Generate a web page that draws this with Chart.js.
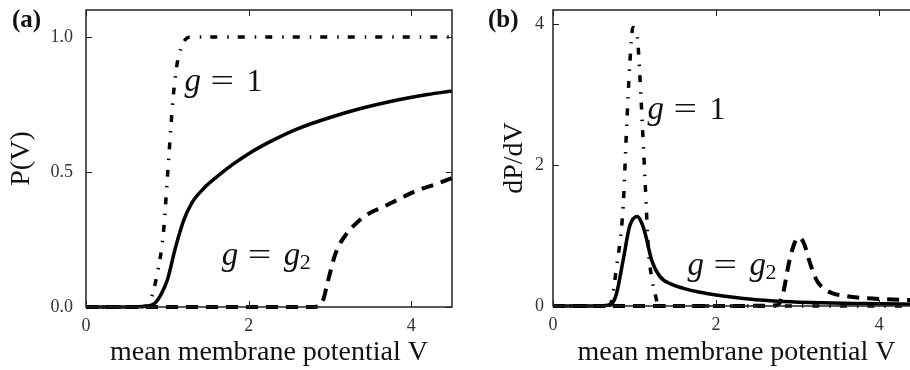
<!DOCTYPE html>
<html>
<head>
<meta charset="utf-8">
<script src="https://cdn.jsdelivr.net/npm/chart.js@4.4.1/dist/chart.umd.min.js"></script>
<style>
  html, body { margin: 0; padding: 0; background: #fff; overflow: hidden; }
  #wrap { position: relative; width: 910px; height: 370px; overflow: hidden; }
  #ca { position: absolute; left: 0; top: 0; }
  #cb { position: absolute; left: 455px; top: 0; }
</style>
</head>
<body>
<div id="wrap">
  <canvas id="ca" width="455" height="370"></canvas>
  <canvas id="cb" width="470" height="370"></canvas>
</div>
<script>
// (a) P(V)
const vSolidA = [0, 0.5, 0.75, 0.85, 0.92, 1.0, 1.1, 1.2, 1.3, 1.45, 1.6, 1.8, 2.0, 2.3, 2.6, 3.0, 3.4, 3.8, 4.2, 4.5];
const pSolidA = [0, 0, 0.003, 0.015, 0.045, 0.1, 0.22, 0.32, 0.385, 0.44, 0.48, 0.527, 0.568, 0.618, 0.66, 0.702, 0.737, 0.765, 0.787, 0.80];
const vDotA = [0, 0.6, 0.75, 0.81, 0.88, 0.95, 1.01, 1.07, 1.12, 1.17, 1.22, 1.3, 1.5, 2.5, 3.5, 4.5];
const pDotA = [0, 0, 0.005, 0.04, 0.13, 0.27, 0.52, 0.77, 0.9, 0.96, 0.99, 1.0, 1.0, 1.0, 1.0, 1.0];
const vDashA = [0, 1, 2, 2.8, 2.87, 2.92, 2.97, 3.07, 3.2, 3.36, 3.5, 3.65, 3.85, 4.06, 4.3, 4.5];
const pDashA = [0, 0, 0, 0, 0.005, 0.03, 0.09, 0.2, 0.27, 0.32, 0.35, 0.37, 0.4, 0.43, 0.455, 0.477];

// (b) dP/dV
const vSolidB = [0, 0.5, 0.68, 0.74, 0.78, 0.86, 0.94, 1.03, 1.08, 1.13, 1.21, 1.31, 1.45, 1.6, 1.8, 2.0, 2.4, 2.82, 3.3, 3.8, 4.5];
const dSolidB = [0, 0, 0.01, 0.06, 0.18, 0.65, 1.13, 1.27, 1.2, 1.03, 0.65, 0.42, 0.31, 0.25, 0.195, 0.157, 0.1, 0.065, 0.045, 0.035, 0.025];
const vDotB = [0, 0.6, 0.7, 0.78, 0.86, 0.9, 0.94, 0.98, 1.01, 1.04, 1.08, 1.13, 1.17, 1.21, 1.25, 1.29, 1.4, 2, 3, 4.5];
const dDotB = [0, 0, 0.02, 0.56, 1.41, 2.46, 3.4, 3.95, 3.92, 3.74, 2.93, 1.75, 0.8, 0.4, 0.18, 0.02, 0, 0, 0, 0];
const vDashB = [0, 1, 2, 2.75, 2.82, 2.9, 2.98, 3.02, 3.08, 3.14, 3.23, 3.33, 3.43, 3.6, 3.84, 4.1, 4.5];
const dDashB = [0, 0, 0, 0.01, 0.18, 0.65, 0.94, 0.97, 0.88, 0.65, 0.37, 0.24, 0.18, 0.14, 0.11, 0.095, 0.08];

const xTicks = [0, 2, 4];
const yTicksA = [0, 0.5, 1.0];
const yTicksB = [0, 2, 4];

const SERIF = "'Liberation Serif', 'DejaVu Serif', serif";

const STYLE_SOLID = { borderWidth: 3.5, borderDash: [] };
const STYLE_DASH = { borderWidth: 4, borderDash: [12, 8] };
const STYLE_DOTDASH = { borderWidth: 3.5, borderDash: [7, 10, 1.5, 9] };

function series(xs, ys, style) {
  return {
    data: xs.map((v, i) => ({ x: v, y: ys[i] })),
    borderColor: '#000',
    borderWidth: style.borderWidth,
    borderDash: style.borderDash,
    pointRadius: 0,
    fill: false,
    cubicInterpolationMode: 'monotone',
    clip: 6
  };
}

// "g = 1" / "g = g2" written piece by piece
function drawNote(ctx, x0, base, rhs, sub) {
  ctx.fillStyle = '#111';
  ctx.textAlign = 'left';
  ctx.textBaseline = 'alphabetic';
  ctx.font = 'italic 33px ' + SERIF;
  ctx.fillText('g', x0, base);
  // wider equals sign, like the TeX one
  ctx.save();
  ctx.translate(x0 + 26, base);
  ctx.scale(1.3, 1);
  ctx.font = '32px ' + SERIF;
  ctx.fillText('=', 0, 0);
  ctx.restore();
  if (sub) {
    ctx.font = 'italic 33px ' + SERIF;
    ctx.fillText('g', x0 + 62, base);
    ctx.font = '22px ' + SERIF;
    ctx.fillText(sub, x0 + 78, base + 4);
  } else {
    ctx.font = '32px ' + SERIF;
    ctx.fillText(rhs, x0 + 62, base);
  }
}

const framePlugin = {
  id: 'frame',
  afterDatasetsDraw(chart, args, opts) {
    const { ctx, chartArea: a, scales: { x, y } } = chart;
    ctx.save();
    ctx.strokeStyle = '#222';
    ctx.lineWidth = 1.5;
    ctx.strokeRect(a.left, a.top, a.right - a.left, a.bottom - a.top);
    ctx.lineWidth = 1;
    ctx.beginPath();
    x.ticks.forEach(t => {
      const px = Math.round(x.getPixelForValue(t.value)) + 0.5;
      ctx.moveTo(px, a.bottom); ctx.lineTo(px, a.bottom - 6);
      ctx.moveTo(px, a.top); ctx.lineTo(px, a.top + 6);
    });
    y.ticks.forEach(t => {
      const py = Math.round(y.getPixelForValue(t.value)) + 0.5;
      ctx.moveTo(a.left, py); ctx.lineTo(a.left + 6, py);
      ctx.moveTo(a.right, py); ctx.lineTo(a.right - 6, py);
    });
    ctx.stroke();

    ctx.fillStyle = '#111';
    ctx.font = 'bold 25px ' + SERIF;
    ctx.textBaseline = 'middle';
    ctx.fillText(opts.label, opts.labelX, 21);

    opts.notes.forEach(n => {
      drawNote(ctx, x.getPixelForValue(n.x), y.getPixelForValue(n.y), n.rhs, n.sub);
    });
    ctx.restore();
  }
};

function noPad(s) {
  s.paddingTop = 0; s.paddingBottom = 0; s.paddingLeft = 0; s.paddingRight = 0;
}

function makeScales(yMin, yMax, yTicks, yFmt, yTitle, yTitlePad, yLabelPad, yWidth, xHeight) {
  return {
    x: {
      type: 'linear', min: 0, max: 4.5,
      afterBuildTicks: s => { s.ticks = xTicks.map(v => ({ value: v })); },
      ticks: { font: { family: SERIF, size: 18 }, color: '#333', padding: 8, maxRotation: 0, callback: v => String(v) },
      grid: { display: false, drawTicks: false },
      border: { display: false },
      title: { display: true, text: 'mean membrane potential V', color: '#111',
               font: { family: SERIF, size: 28, lineHeight: 1.2 }, padding: { top: 0, bottom: 1 } },
      afterFit: s => { s.height = xHeight; noPad(s); }
    },
    y: {
      type: 'linear', min: yMin, max: yMax,
      afterBuildTicks: s => { s.ticks = yTicks.map(v => ({ value: v })); },
      ticks: { font: { family: SERIF, size: 18 }, color: '#333', padding: yLabelPad, callback: yFmt },
      grid: { display: false, drawTicks: false },
      border: { display: false },
      title: { display: true, text: yTitle, color: '#111',
               font: { family: SERIF, size: 28, lineHeight: 1.2 }, padding: { top: yTitlePad, bottom: 0 } },
      afterFit: s => { s.width = yWidth; noPad(s); }
    }
  };
}

new Chart(document.getElementById('ca'), {
  type: 'line',
  data: {
    datasets: [
      series(vDashA, pDashA, STYLE_DASH),
      series(vDotA, pDotA, STYLE_DOTDASH),
      series(vSolidA, pSolidA, STYLE_SOLID)
    ]
  },
  options: {
    responsive: false,
    animation: false,
    layout: { padding: { top: 10, right: 3, left: 0, bottom: 0 } },
    plugins: {
      legend: { display: false },
      tooltip: { enabled: false },
      frame: {
        label: '(a)', labelX: 12,
        notes: [
          { x: 1.21, y: 0.80, rhs: '1' },
          { x: 1.67, y: 0.155, sub: '2' }
        ]
      }
    },
    scales: makeScales(0, 1.1, yTicksA, v => v.toFixed(1), 'P(V)', 5, 13, 86, 63)
  },
  plugins: [framePlugin]
});

new Chart(document.getElementById('cb'), {
  type: 'line',
  data: {
    datasets: [
      series(vDashB, dDashB, STYLE_DASH),
      series(vDotB, dDotB, STYLE_DOTDASH),
      series(vSolidB, dSolidB, STYLE_SOLID)
    ]
  },
  options: {
    responsive: false,
    animation: false,
    layout: { padding: { top: 10, right: 5, left: 0, bottom: 0 } },
    plugins: {
      legend: { display: false },
      tooltip: { enabled: false },
      frame: {
        label: '(b)', labelX: 33,
        notes: [
          { x: 1.16, y: 2.66, rhs: '1' },
          { x: 1.65, y: 0.44, sub: '2' }
        ]
      }
    },
    scales: makeScales(0, 4.2, yTicksB, v => String(v), 'dP/dV', 43, 9, 98, 64)
  },
  plugins: [framePlugin]
});
</script>
</body>
</html>
